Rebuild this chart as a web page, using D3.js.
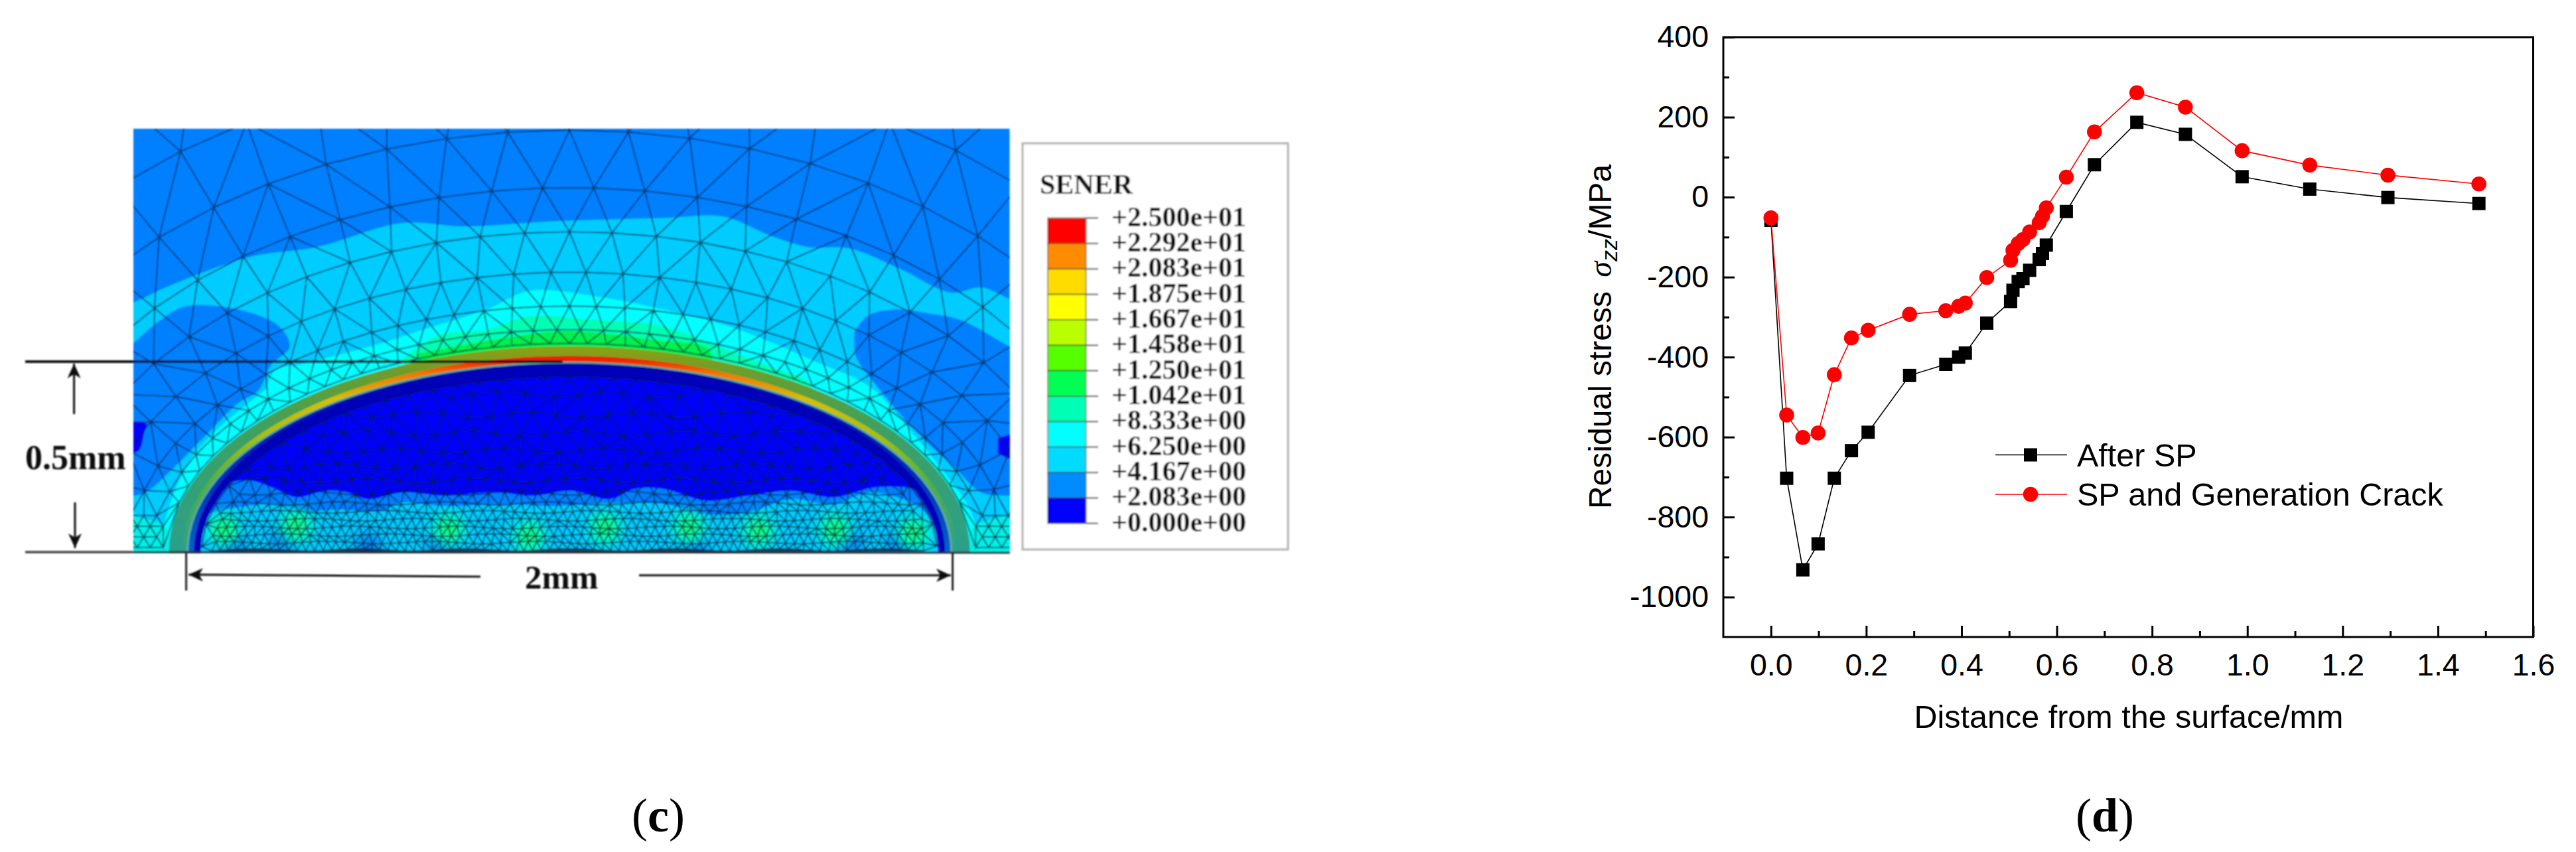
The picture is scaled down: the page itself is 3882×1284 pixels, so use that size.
<!DOCTYPE html>
<html lang="en">
<head>
    <meta charset="UTF-8">
    <title>Residual stress</title>
    <script src="https://cdn.jsdelivr.net/npm/d3@7"></script>
    <style>
        html, body { margin: 0; padding: 0; background: #fff; }
        svg { display: block; }
    </style>
</head>
<body>
    <svg id="fig" width="3882" height="1284"></svg>

    <script>
        //---- chart (d) data
        var distance = [0, .033, .067, .099, .133, .169, .204, .291, .367, .394, .408, .453, .503, .508,
                        .519, .529, .543, .563, .570, .578, .620, .679, .768, .870, .989, 1.131, 1.295, 1.486]
        var afterSP = [-58, -703, -932, -867, -703, -634, -588, -446, -418, -400, -390, -315, -261, -233,
                       -211, -204, -183, -156, -141, -120, -36, 81, 187, 157, 51, 20, -1, -16]
        var spCrack = [-52, -545, -601, -590, -444, -352, -333, -293, -284, -273, -265, -201, -158, -133,
                       -116, -106, -87, -64, -48, -27, 50, 163, 261, 225, 116, 80, 55, 33]
        var xMajor = [0, .2, .4, .6, .8, 1, 1.2, 1.4, 1.6]
        var xMinor = [.1, .3, .5, .7, .9, 1.1, 1.3, 1.5]
        var yMajor = [400, 200, 0, -200, -400, -600, -800, -1000]
        var yMinor = [300, 100, -100, -300, -500, -700, -900]

        //---- panel (c) legend
        var senerLabels = ['+2.500e+01', '+2.292e+01', '+2.083e+01', '+1.875e+01', '+1.667e+01', '+1.458e+01', '+1.250e+01',
                           '+1.042e+01', '+8.333e+00', '+6.250e+00', '+4.167e+00', '+2.083e+00', '+0.000e+00']
        var senerColors = ['#ff0000', '#ff8c00', '#ffdc00', '#ffff00', '#baff00', '#55ff00',
                           '#00ff55', '#00ffb4', '#00ffff', '#00dcff', '#008cff', '#0000ff']

        //---- panel (c) contour outlines, in mm from the crack centre
        var bandCyan = [[-1.3, .6], [-1.138, .655], [-1.044, .699], [-.834, .775], [-.658, .801], [-.437, .864], [-.271, .855],
                        [-.05, .868], [.246, .877], [.401, .881], [.522, .832], [.621, .801], [.732, .797], [.864, .743],
                        [.997, .681], [1.074, .695], [1.149, .664], [1.3, .6], [1.3, -.1], [-1.3, -.1]]
        var holeLeft = [[-1.3, .4], [-1.138, .548], [-1.066, .610], [-1.0, .646], [-.845, .632], [-.757, .592], [-.73, .539],
                        [-.779, .490], [-.812, .424], [-.868, .388], [-.956, .299], [-1.044, .210], [-1.105, .157], [-1.138, .148], [-1.3, .14]]
        var holeRight = [[.743, .575], [.776, .619], [.853, .637], [.953, .624], [1.019, .610], [1.149, .539], [1.3, .45], [1.3, .14],
                         [1.149, .148], [1.074, .157], [1.008, .219], [.931, .290], [.864, .361], [.798, .441], [.748, .512], [.743, .575]]
        var bandAqua = [[-.79, .43], [-.768, .477], [-.691, .495], [-.492, .548], [-.382, .584], [-.216, .637], [-.105, .686], [.06, .673],
                        [.246, .637], [.356, .610], [.467, .575], [.633, .504], [.787, .432], [.876, .335], [.964, .228], [1.05, .1], [1.06, 0],
                        [-1.06, 0], [-1.05, .1], [-.99, .24], [-.90, .34]]
        var bandMint = [[-.437, .504], [-.348, .566], [-.216, .584], [-.105, .619], [.06, .610], [.246, .592], [.390, .539],
                        [.522, .486], [.633, .432], [.5, .2], [-.3, .2]]
        var bandGreen = [[-.40, .52], [-.244, .549], [-.10, .572], [0, .58], [.124, .57], [.216, .557], [.367, .526], [.3, .3], [-.3, .3]]
        var patchLeft = [[-1.2, .335], [-1.105, .339], [-1.11, .312], [-1.127, .264], [-1.2, .264]]
        var patchRight = [[1.118, .299], [1.2, .312], [1.2, .232], [1.118, .259]]
        var cornerLeft = [[-1.2, .1], [-1.12, .09], [-1.05, .06], [-1.04, -.1], [-1.2, -.1]]
        var cornerRight = [[1.2, .1], [1.12, .09], [1.05, .06], [1.04, -.1], [1.2, -.1]]
        var waveUpper = [[-1, .12], [-.912, .175], [-.834, .188], [-.768, .166], [-.713, .144], [-.636, .161], [-.580, .157], [-.525, .139],
                         [-.437, .157], [-.326, .148], [-.194, .157], [-.095, .148], [.005, .161], [.104, .139], [.171, .166], [.246, .166],
                         [.356, .135], [.467, .148], [.577, .161], [.688, .144], [.798, .170], [.898, .166], [.931, .148], [1, .1], [1, -.1], [-1, -.1]]
        var waveLower = [[-1, .07], [-.956, .095], [-.868, .117], [-.768, .126], [-.691, .108], [-.602, .112], [-.492, .108], [-.437, .130],
                         [-.326, .121], [-.161, .126], [-.05, .121], [.06, .126], [.246, .126], [.356, .099], [.467, .104], [.577, .139],
                         [.688, .126], [.787, .157], [.909, .121], [.953, .077], [1, .05], [1, -.1], [-1, -.1]]
        var hotSpots = [[-.901, .059], [-.713, .068], [-.315, .059], [-.105, .041], [.093, .064], [.312, .064], [.494, .055], [.693, .059], [.898, .05]]
        var coldSpots = [[-.879, .024], [-.746, .032], [-.525, .015], [-.337, .015], [.323, .015], [.732, .024], [.864, .024]]

        //---- panel (c) element rows: [offset from crack, element size], in mm
        var outerRows = [[.97, .2], [.78, .19], [.608, .16], [.457, .135], [.341, .115], [.235, .095], [.146, .075], [.084, .06], [.048, .05]]
        var cornerRowY = [.012, .04, .068, .096]
        var innerSizeY = [0, .1, .16, .3, .46]
        var innerSize = [.022, .024, .04, .055, .07]

        var svg = d3.select('#fig')
        var defs = svg.append('defs')

        //1. left panel: scales in mm, clip and soft look of the scanned picture
        var mx = d3.scaleLinear().domain([-1, 1]).range([280.6, 1435.6])
        var my = d3.scaleLinear().domain([0, .5]).range([832, 545])
        var rx = function(a){ return mx(a) - mx(0) }
        var ry = function(b){ return my(0) - my(b) }

        defs.append('clipPath').attr('id', 'panelClip').append('rect')
            .attr('x', 201).attr('y', 194).attr('width', 1320.7).attr('height', 640)
        defs.append('clipPath').attr('id', 'coreClip').append('ellipse')
            .attr('cx', mx(0)).attr('cy', my(0)).attr('rx', rx(.962)).attr('ry', ry(.462))

        var soft = defs.append('filter').attr('id', 'soft')
        soft.append('feGaussianBlur').attr('stdDeviation', 1.1)
        var softer = defs.append('filter').attr('id', 'softer')
            .attr('x', '-80%').attr('y', '-80%').attr('width', '260%').attr('height', '260%')
        softer.append('feGaussianBlur').attr('stdDeviation', 9)

        function gradient(id, b, stops){
            var g = defs.append('linearGradient').attr('id', id).attr('gradientUnits', 'userSpaceOnUse')
                .attr('x1', 0).attr('x2', 0).attr('y1', my(b)).attr('y2', my(0))
            stops.forEach(function(s){ g.append('stop').attr('offset', s[0]).attr('stop-color', s[1]) })
        }
        gradient('ringOuter', .54, [[0, '#8fa012'], [.13, '#6a9e2e'], [.4, '#3fa060'], [1, '#2aa08c']])
        gradient('ringInner', .515, [[0, '#e81800'], [.03, '#f03000'], [.09, '#f07800'], [.22, '#d8c000'], [.42, '#a8c000'], [.65, '#50b040'], [1, '#2aa090']])
        gradient('crackEdge', .495, [[0, '#0000a8'], [.6, '#0030b8'], [1, '#0064c8']])

        var left = svg.append('g').attr('filter', 'url(#soft)')
        var panel = left.append('g').attr('clip-path', 'url(#panelClip)')

        var outline = d3.line().x(function(d){ return mx(d[0]) }).y(function(d){ return my(d[1]) }).curve(d3.curveCatmullRom)

        //2. contour bands, outermost first
        panel.append('rect').attr('x', 201).attr('y', 194).attr('width', 1320.7).attr('height', 640).attr('fill', '#0080ff')
        var bands = [[bandCyan, '#00ccff'], [holeLeft, '#0080ff'], [holeRight, '#0080ff'], [patchLeft, '#0000ff'], [patchRight, '#0000ff'],
                     [bandAqua, '#00ffff'], [bandMint, '#00ffb4'], [bandGreen, '#00f050'], [cornerLeft, '#00f0e8'], [cornerRight, '#00f0e8']]
        panel.selectAll('path.band').data(bands).enter().append('path').attr('class', 'band')
            .attr('d', function(d){ return outline(d[0]) })
            .attr('fill', function(d){ return d[1] })

        //3. rings around the crack
        var rings = [[1.045, .54, 'url(#ringOuter)'], [1.01, .515, 'url(#ringInner)'], [1.0, .5, '#5aa8a0'],
                     [.994, .495, 'url(#crackEdge)'], [.98, .49, '#0000b8'], [.962, .462, '#0000ff']]
        panel.selectAll('ellipse.ring').data(rings).enter().append('ellipse').attr('class', 'ring')
            .attr('cx', mx(0)).attr('cy', my(0))
            .attr('rx', function(d){ return rx(d[0]) })
            .attr('ry', function(d){ return ry(d[1]) })
            .attr('fill', function(d){ return d[2] })

        //4. stress bands inside the crack
        var core = panel.append('g').attr('clip-path', 'url(#coreClip)')
        core.append('path').attr('d', outline(waveUpper)).attr('fill', '#0080ff')
        core.append('path').attr('d', outline(waveLower)).attr('fill', '#00ccff')
        core.selectAll('circle.cold').data(coldSpots).enter().append('circle').attr('class', 'cold')
            .attr('cx', function(d){ return mx(d[0]) }).attr('cy', function(d){ return my(d[1]) })
            .attr('r', 20).attr('fill', '#0084f0').attr('filter', 'url(#softer)')
        core.selectAll('circle.hot').data(hotSpots).enter().append('circle').attr('class', 'hot')
            .attr('cx', function(d){ return mx(d[0]) }).attr('cy', function(d){ return my(d[1]) })
            .attr('r', 26).attr('fill', '#00ffd0').attr('filter', 'url(#softer)')
        core.selectAll('circle.halo').data(hotSpots).enter().append('circle').attr('class', 'halo')
            .attr('cx', function(d){ return mx(d[0]) }).attr('cy', function(d){ return my(d[1]) })
            .attr('r', 12).attr('fill', '#20f050').attr('filter', 'url(#softer)')

        //5. mesh: vertices on offset ellipses outside, on staggered rows inside, then d3.Delaunay
        function ellipseRow(a, b, size, shift){
            var steps = 1440, pts = [], len = [0]
            for(var i = 0; i <= steps; i ++){
                var t = Math.PI / 2 + 2 * Math.PI * i / steps
                pts.push([a * Math.cos(t), b * Math.sin(t)])
                if(i > 0) len.push(len[i - 1] + Math.hypot(pts[i][0] - pts[i - 1][0], pts[i][1] - pts[i - 1][1]))
            }
            var total = len[steps], n = Math.round(total / size), out = [], j = 0
            for(var k = 0; k < n; k ++){
                var s = (k + shift) * total / n
                while(len[j] < s && j < steps) j ++
                out.push(pts[j])
            }
            return out
        }

        function drawEdges(points, keep){
            var del = d3.Delaunay.from(points), p = d3.path(), tri = del.triangles
            for(var e = 0; e < tri.length; e += 3){
                var a = points[tri[e]], b = points[tri[e + 1]], c = points[tri[e + 2]]
                if(!keep((a[0] + b[0] + c[0]) / 3, (a[1] + b[1] + c[1]) / 3)) continue
                p.moveTo(mx(a[0]), my(a[1]))
                p.lineTo(mx(b[0]), my(b[1]))
                p.lineTo(mx(c[0]), my(c[1]))
                p.closePath()
            }
            panel.append('path').attr('d', p.toString()).attr('fill', 'none')
                .attr('stroke', '#041a34').attr('stroke-opacity', .78).attr('stroke-width', 1.7)
        }

        var outerPts = []
        outerRows.forEach(function(r, i){
            ellipseRow(1 + r[0], .5 + r[0], r[1], i % 2 ? .5 : 0).forEach(function(q){
                if(q[1] > .11 || q[1] < -.1 || Math.abs(q[0]) > 1.2) outerPts.push(q)
            })
        })
        //finer elements in the two bottom corners
        cornerRowY.forEach(function(cy, i){
            for(var cx = 1.06 + (i % 2 ? .017 : 0); cx < 1.2; cx += .034){
                outerPts.push([cx, cy])
                outerPts.push([-cx, cy])
            }
        })
        drawEdges(outerPts, function(x, y){
            return y > -.02 && Math.pow(x / 1.045, 2) + Math.pow(y / .54, 2) > 1
        })

        var sizeAt = d3.scaleLinear().domain(innerSizeY).range(innerSize)
        var innerPts = ellipseRow(.96, .46, .06, 0).filter(function(q){ return q[1] > -.02 })
        var rowY = .006, rowN = 0
        while(rowY < .45){
            var s = sizeAt(rowY)
            for(var ix = -1; ix <= 1; ix += s){
                var wx = ix + (rowN % 2 ? s / 2 : 0) + .16 * s * Math.sin(3.1 * rowN + 17 * ix)
                var wy = rowY + .14 * s * Math.cos(2.3 * rowN + 23 * ix)
                if(Math.pow(wx / .945, 2) + Math.pow(wy / .445, 2) < 1) innerPts.push([wx, wy])
            }
            rowY += .87 * s
            rowN ++
        }
        drawEdges(innerPts, function(x, y){
            return y > 0 && Math.pow(x / .96, 2) + Math.pow(y / .46, 2) < 1
        })

        //6. dimension lines and labels
        var head = defs.append('marker').attr('id', 'head').attr('markerUnits', 'userSpaceOnUse')
            .attr('markerWidth', 28).attr('markerHeight', 24).attr('refX', 22).attr('refY', 12).attr('orient', 'auto-start-reverse')
        head.append('path').attr('d', d3.line()([[0, 2], [22, 12], [0, 22], [6, 12]])).attr('fill', '#111')

        var dims = [[38, my(.5), mx(-.018), my(.5), 4, '#0c0c14'], [38, my(0), 198, my(0), 3.5, '#444'], [198, my(0), 1521.7, my(0) + 1, 3, '#303030'],
                    [mx(-1), my(0), mx(-1), 890, 3, '#222'], [mx(1), my(0), mx(1), 890, 3, '#222']]
        left.selectAll('line.dim').data(dims).enter().append('line').attr('class', 'dim')
            .attr('x1', function(d){ return d[0] }).attr('y1', function(d){ return d[1] })
            .attr('x2', function(d){ return d[2] }).attr('y2', function(d){ return d[3] })
            .attr('stroke-width', function(d){ return d[4] }).attr('stroke', function(d){ return d[5] })

        var arrows = [[111.6, 624, 111.6, 548], [113, 757, 113, 826], [724, 869, 284, 866], [963, 867, 1433, 867]]
        left.selectAll('line.arrow').data(arrows).enter().append('line').attr('class', 'arrow')
            .attr('x1', function(d){ return d[0] }).attr('y1', function(d){ return d[1] })
            .attr('x2', function(d){ return d[2] }).attr('y2', function(d){ return d[3] })
            .attr('stroke', '#111').attr('stroke-width', 3).attr('marker-end', 'url(#head)')

        var serifBold = 'Liberation Serif'
        left.append('text').attr('x', 38).attr('y', 707).attr('font-family', serifBold).attr('font-weight', 'bold')
            .attr('font-size', 52).attr('fill', '#111').text('0.5mm')
        left.append('text').attr('x', 791).attr('y', 887).attr('font-family', serifBold).attr('font-weight', 'bold')
            .attr('font-size', 51).attr('fill', '#111').text('2mm')

        //7. colour legend
        var legendY = d3.scalePoint().domain(senerLabels).range([328.6, 788.8])
        left.append('rect').attr('x', 1541).attr('y', 216).attr('width', 400).attr('height', 612)
            .attr('fill', '#fff').attr('stroke', '#b0b0b0').attr('stroke-width', 3)
        left.append('text').attr('x', 1567).attr('y', 292).attr('font-family', serifBold).attr('font-weight', 'bold')
            .attr('font-size', 42).attr('fill', '#111').text('SENER')

        left.selectAll('rect.swatch').data(senerColors).enter().append('rect').attr('class', 'swatch')
            .attr('x', 1579).attr('width', 57.5)
            .attr('y', function(d, i){ return legendY(senerLabels[i]) })
            .attr('height', legendY.step())
            .attr('fill', function(d){ return d })
            .attr('stroke', 'rgba(70,70,40,.55)').attr('stroke-width', 2)
        left.selectAll('line.legendTick').data(senerLabels).enter().append('line').attr('class', 'legendTick')
            .attr('x1', 1636).attr('x2', 1655)
            .attr('y1', function(d){ return legendY(d) }).attr('y2', function(d){ return legendY(d) })
            .attr('stroke', '#777').attr('stroke-width', 2.5)
        left.selectAll('text.legendLabel').data(senerLabels).enter().append('text').attr('class', 'legendLabel')
            .attr('x', 1675).attr('y', function(d){ return legendY(d) + 12 })
            .attr('font-family', serifBold).attr('font-weight', 'bold').attr('font-size', 42).attr('fill', '#111')
            .text(function(d){ return d })

        //8. right chart
        var x = d3.scaleLinear().domain([-.1, 1.6]).range([2597, 3817.5])
        var y = d3.scaleLinear().domain([-1100, 400]).range([960, 56])
        var sans = 'Liberation Sans'

        var chart = svg.append('g').attr('font-family', sans).attr('fill', '#000')
        chart.append('rect').attr('x', 2597).attr('y', 56).attr('width', 1220.5).attr('height', 904)
            .attr('fill', 'none').attr('stroke', '#000').attr('stroke-width', 3)

        function styleAxis(g){
            g.select('.domain').remove()
            g.selectAll('line').attr('stroke', '#000').attr('stroke-width', 3)
            g.selectAll('text').attr('font-family', sans).attr('font-size', 46.5).attr('fill', '#000')
        }
        chart.append('g').attr('transform', 'translate(0,960)')
            .call(d3.axisBottom(x).tickValues(xMajor).tickSize(-17).tickPadding(25).tickFormat(d3.format('.1f')))
            .call(styleAxis)
        chart.append('g').attr('transform', 'translate(0,960)')
            .call(d3.axisBottom(x).tickValues(xMinor).tickSize(-9).tickFormat(''))
            .call(styleAxis)
        chart.append('g').attr('transform', 'translate(2597,0)')
            .call(d3.axisLeft(y).tickValues(yMajor).tickSize(-17).tickPadding(22).tickFormat(function(d){ return String(d) }))
            .call(styleAxis)
        chart.append('g').attr('transform', 'translate(2597,0)')
            .call(d3.axisLeft(y).tickValues(yMinor).tickSize(-9).tickFormat(''))
            .call(styleAxis)

        chart.append('text').attr('x', 3208).attr('y', 1097).attr('text-anchor', 'middle')
            .attr('font-size', 48.5).text('Distance from the surface/mm')

        var yTitle = chart.append('text').attr('transform', 'translate(2428,507.5) rotate(-90)')
            .attr('text-anchor', 'middle').attr('font-size', 48)
        yTitle.append('tspan').text('Residual stress ')
        yTitle.append('tspan').attr('dx', 8).attr('font-style', 'italic').attr('font-family', 'Liberation Serif').text('σ')
        yTitle.append('tspan').attr('font-style', 'italic').attr('font-size', 34).attr('dy', 9).text('zz')
        yTitle.append('tspan').attr('dy', -9).text('/MPa')

        //9. series, black first so the red markers sit on top
        var series = [
            {name: 'After SP', values: afterSP, color: '#000', symbol: d3.symbolSquare, legendY: 685.5},
            {name: 'SP and Generation Crack', values: spCrack, color: '#ff0000', symbol: d3.symbolCircle, legendY: 745}
        ]
        var lineGen = d3.line().x(function(d){ return x(d[0]) }).y(function(d){ return y(d[1]) })

        series.forEach(function(s){
            var pts = distance.map(function(d, i){ return [d, s.values[i]] })
            chart.append('path').attr('d', lineGen(pts)).attr('fill', 'none').attr('stroke', s.color).attr('stroke-width', 1.6)
            chart.selectAll(null).data(pts).enter().append('path')
                .attr('d', d3.symbol().type(s.symbol).size(400))
                .attr('transform', function(d){ return 'translate(' + x(d[0]) + ',' + y(d[1]) + ')' })
                .attr('fill', s.color)

            //legend entry
            chart.append('line').attr('x1', 3007).attr('x2', 3115).attr('y1', s.legendY).attr('y2', s.legendY)
                .attr('stroke', s.color).attr('stroke-width', 1.6)
            chart.append('path').attr('d', d3.symbol().type(s.symbol).size(400))
                .attr('transform', 'translate(3060,' + s.legendY + ')').attr('fill', s.color)
            chart.append('text').attr('x', 3130).attr('y', s.legendY + 17).attr('font-size', 48.5).text(s.name)
        })

        //10. captions
        function caption(cx, letter){
            var t = svg.append('text').attr('x', cx).attr('y', 1253).attr('text-anchor', 'middle')
                .attr('font-family', 'Liberation Serif').attr('font-size', 72).attr('fill', '#000')
            t.append('tspan').text('(')
            t.append('tspan').attr('font-weight', 'bold').text(letter)
            t.append('tspan').text(')')
        }
        caption(992, 'c')
        caption(3172, 'd')
    </script>
</body>
</html>
